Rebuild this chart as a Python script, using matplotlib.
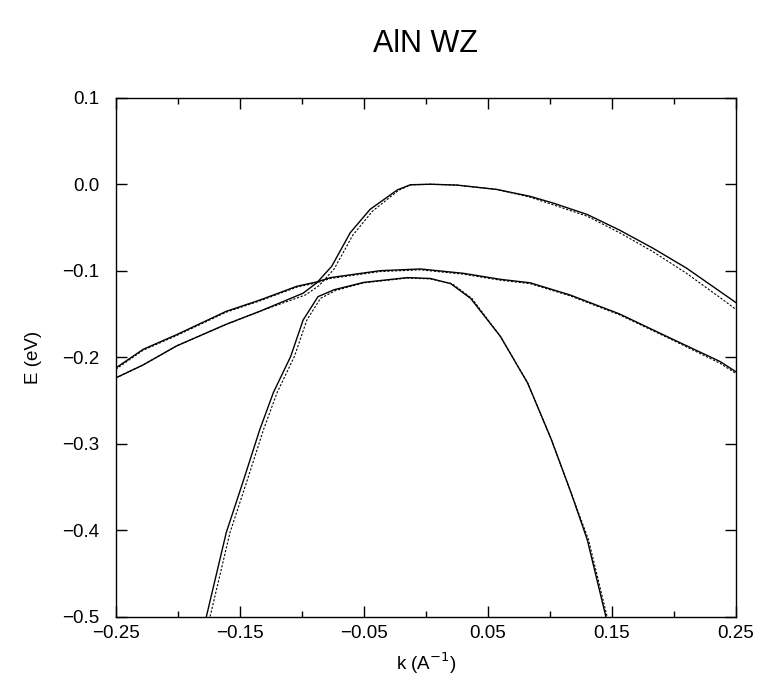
import matplotlib
matplotlib.use("Agg")
import matplotlib.pyplot as plt
from matplotlib.ticker import MultipleLocator, FuncFormatter

plt.rcParams['font.family'] = ['Liberation Sans', 'DejaVu Sans']

# band data (k in 1/A, E in eV)
k_top = [-0.25, -0.228, -0.201, -0.161, -0.134, -0.099, -0.088, -0.076, -0.061, -0.045,
         -0.023, -0.0125, 0.0036, 0.025, 0.057, 0.084, 0.103, 0.130, 0.156, 0.183, 0.210, 0.237, 0.25]
E_top = [-0.224, -0.209, -0.187, -0.162, -0.147, -0.126, -0.114, -0.095, -0.056, -0.029,
         -0.0065, -0.0006, 0.0, -0.001, -0.006, -0.014, -0.022, -0.035, -0.053, -0.074, -0.097, -0.124, -0.137]
k_top_dot = [-0.25, -0.228, -0.201, -0.161, -0.134, -0.097, -0.086, -0.074, -0.059, -0.043,
             -0.022, -0.0125, 0.0036, 0.025, 0.057, 0.084, 0.103, 0.130, 0.156, 0.183, 0.210, 0.237, 0.25]
E_top_dot = [-0.224, -0.209, -0.187, -0.162, -0.147, -0.128, -0.117, -0.098, -0.059, -0.031,
             -0.007, -0.0008, 0.0, -0.001, -0.006, -0.015, -0.024, -0.037, -0.056, -0.078, -0.103, -0.131, -0.145]

k_mid = [-0.25, -0.228, -0.201, -0.161, -0.134, -0.104, -0.088, -0.077, -0.037, -0.0045,
         0.03, 0.060, 0.084, 0.116, 0.156, 0.197, 0.237, 0.25]
E_mid = [-0.2125, -0.191, -0.174, -0.147, -0.134, -0.118, -0.113, -0.108, -0.100, -0.098,
         -0.103, -0.110, -0.114, -0.128, -0.150, -0.178, -0.205, -0.217]
E_mid_dot = [-0.214, -0.192, -0.175, -0.148, -0.135, -0.119, -0.114, -0.109, -0.101, -0.099,
             -0.104, -0.111, -0.115, -0.129, -0.151, -0.179, -0.207, -0.219]

k_low = [-0.177, -0.161, -0.147, -0.134, -0.123, -0.109, -0.099, -0.087, -0.074, -0.050,
         -0.015, 0.0036, 0.020, 0.036, 0.060, 0.082, 0.101, 0.117, 0.130, 0.145]
E_low = [-0.5, -0.403, -0.342, -0.284, -0.241, -0.199, -0.157, -0.130, -0.122, -0.1135,
         -0.108, -0.109, -0.115, -0.132, -0.176, -0.230, -0.295, -0.357, -0.411, -0.5]
k_low_dot = [-0.174, -0.158, -0.144, -0.131, -0.120, -0.106, -0.096, -0.085, -0.073, -0.050,
             -0.015, 0.0036, 0.021, 0.037, 0.060, 0.082, 0.101, 0.117, 0.131, 0.146]
E_low_dot = [-0.5, -0.403, -0.342, -0.284, -0.241, -0.199, -0.157, -0.132, -0.123, -0.114,
             -0.1085, -0.1095, -0.115, -0.132, -0.176, -0.230, -0.295, -0.357, -0.411, -0.5]

x_major = [-0.25, -0.15, -0.05, 0.05, 0.15, 0.25]
x_minor = [-0.2, -0.1, 0.0, 0.1, 0.2]

fig = plt.figure(figsize=(7.62, 6.79), dpi=100)
ax = fig.add_axes([0.152, 0.092, 0.814, 0.764])

dots = (0, (2, 1.5))
ax.plot(k_top, E_top, color='black', lw=1.0)
ax.plot(k_top_dot, E_top_dot, color='black', lw=0.8, ls=dots)
ax.plot(k_mid, E_mid, color='black', lw=1.0)
ax.plot(k_mid, E_mid_dot, color='black', lw=0.8, ls=dots)
ax.plot(k_low, E_low, color='black', lw=1.0)
ax.plot(k_low_dot, E_low_dot, color='black', lw=0.8, ls=dots)

ax.set_xlim(-0.25, 0.25)
ax.set_ylim(-0.5, 0.1)
ax.set_xticks(x_major)
ax.set_xticks(x_minor, minor=True)
ax.yaxis.set_major_locator(MultipleLocator(0.1))
ax.xaxis.set_major_formatter(FuncFormatter(lambda v, p: f"{v:.2f}".replace('-', '\u2212')))
ax.yaxis.set_major_formatter(FuncFormatter(lambda v, p: f"{v:.1f}".replace('-', '\u2212')))
ax.tick_params(which='both', direction='in', top=True, right=True, labelsize=13.5, width=1)
ax.tick_params(which='major', length=8)
ax.tick_params(which='minor', length=4)
ax.tick_params(axis='x', which='major', pad=6)
ax.tick_params(axis='y', which='major', pad=12)
for s in ax.spines.values():
    s.set_linewidth(1.0)

ax.set_xlabel('k (A$^{-1}$)', fontsize=13.5, labelpad=6)
ax.set_ylabel('E (eV)', fontsize=13.5, labelpad=14)
ax.set_title('AlN WZ', fontsize=22, pad=33)

fig.savefig('out.png', dpi=100)
